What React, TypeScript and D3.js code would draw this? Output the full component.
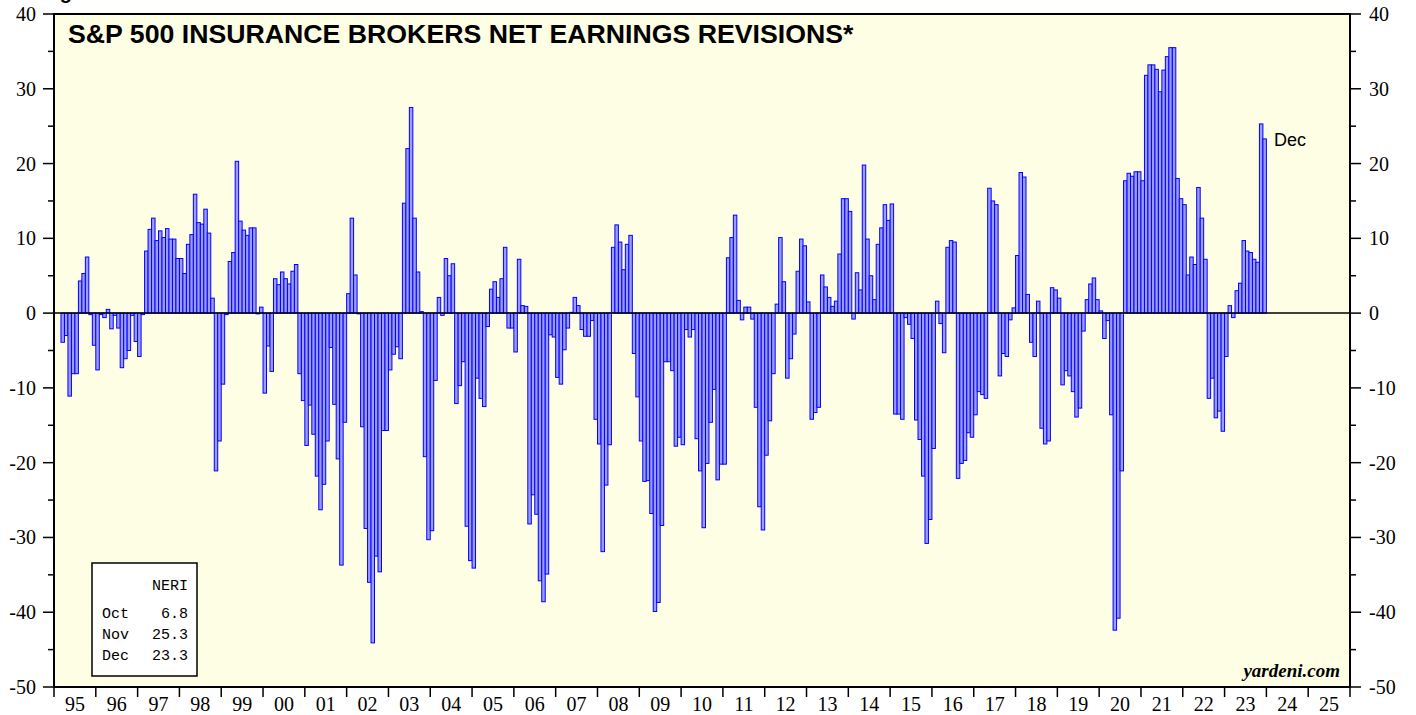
import * as d3 from "d3";
import { useMemo } from "react";

// NERI, monthly, first value is Mar 1995
const neri1995 = [-3.9, -3.0, -11.1, -8.1, -8.1, 4.3, 5.3, 7.5, -0.2, -4.3];
const neri1996 = [-7.6, -0.2, -0.6, 0.5, -2.1, -0.3, -2.0, -7.3, -6.1, -5.0, -0.3, -3.8];
const neri1997 = [-5.8, -0.2, 8.3, 11.2, 12.7, 9.7, 11.0, 10.1, 11.3, 9.9, 9.9, 7.3];
const neri1998 = [7.3, 5.3, 9.2, 10.5, 15.9, 12.1, 11.9, 13.9, 10.7, 2.0, -21.1, -17.1];
const neri1999 = [-9.5, -0.2, 6.9, 8.1, 20.3, 12.3, 11.1, 10.4, 11.4, 11.4, -0.1, 0.8];
const neri2000 = [-10.7, -4.4, -7.8, 4.6, 3.8, 5.5, 4.6, 3.9, 5.6, 6.5, -8.1, -11.7];
const neri2001 = [-17.7, -12.3, -16.2, -21.8, -26.3, -22.9, -17.1, -4.6, -12.2, -19.5, -33.7, -14.6];
const neri2002 = [2.6, 12.7, 5.1, -0.1, -15.2, -28.8, -36.0, -44.1, -32.5, -34.6, -15.7, -15.7];
const neri2003 = [-7.6, -5.5, -4.5, -6.1, 14.7, 22.0, 27.5, 12.7, 5.5, 0.2, -19.2, -30.3];
const neri2004 = [-29.1, -9.0, 2.1, -0.3, 7.3, 5.0, 6.6, -12.1, -9.7, -6.5, -28.5, -33.1];
const neri2005 = [-34.1, -8.7, -11.4, -12.5, -1.8, 3.2, 4.2, 2.1, 4.6, 8.8, -2.0, -2.0];
const neri2006 = [-5.2, 7.2, 1.0, 0.9, -28.2, -24.3, -26.9, -35.8, -38.6, -34.9, -2.9, -3.2];
const neri2007 = [-8.6, -9.5, -4.9, -2.0, 0.1, 2.1, 1.0, -2.2, -3.1, -3.1, -1.0, -14.2];
const neri2008 = [-17.5, -31.9, -23.0, -17.6, 8.8, 11.8, 9.5, 5.8, 9.2, 10.4, -5.4, -11.2];
const neri2009 = [-17.1, -22.5, -22.4, -26.8, -39.9, -38.7, -28.4, -6.5, -6.5, -7.7, -17.8, -16.6];
const neri2010 = [-17.6, -2.2, -3.2, -2.2, -16.8, -21.1, -28.7, -20.1, -14.6, -10.2, -22.3, -20.2];
const neri2011 = [-20.2, 7.4, 10.1, 13.1, 1.7, -0.9, 0.8, 0.8, -0.8, -12.6, -25.9, -29.0];
const neri2012 = [-19.0, -14.4, -8.1, 1.2, 10.1, 4.2, -8.7, -6.1, -2.8, 5.6, 9.9, 9.0];
const neri2013 = [1.5, -14.2, -13.3, -12.6, 5.1, 3.5, 2.1, 0.9, 1.6, 7.9, 15.3, 15.3];
const neri2014 = [13.6, -0.8, 5.4, 3.1, 19.8, 9.9, 5.0, 1.8, 9.2, 11.4, 14.5, 12.4];
const neri2015 = [14.6, -13.5, -13.5, -14.2, -0.6, -1.5, -3.4, -14.3, -16.9, -21.8, -30.8, -27.6];
const neri2016 = [-18.1, 1.6, -1.4, -5.3, 8.8, 9.7, 9.5, -22.1, -20.1, -19.7, -16.0, -16.6];
const neri2017 = [-13.6, -10.5, -10.9, -11.4, 16.7, 15.0, 14.5, -8.4, -5.4, -5.8, -0.9, 0.7];
const neri2018 = [7.7, 18.8, 18.2, 2.5, -3.9, -5.8, 1.6, -15.4, -17.5, -17.1, 3.4, 3.1];
const neri2019 = [2.0, -9.6, -7.7, -8.4, -10.5, -13.9, -12.7, -2.4, 1.8, 3.9, 4.7, 1.8];
const neri2020 = [0.3, -3.4, -1.0, -13.6, -42.4, -40.8, -21.1, 17.7, 18.7, 18.3, 18.9, 18.9];
const neri2021 = [17.7, 31.8, 33.2, 33.2, 32.6, 29.6, 32.5, 34.3, 35.5, 35.5, 18.0, 15.3];
const neri2022 = [14.5, 5.1, 7.5, 6.5, 16.8, 12.7, 7.2, -11.4, -8.7, -14.0, -13.1, -15.8];
const neri2023 = [-5.8, 1.0, -0.6, 3.0, 4.0, 9.7, 8.3, 8.1, 7.2, 6.8, 25.3, 23.3];

const yearLabels = ["95", "96", "97", "98", "99", "00", "01", "02", "03", "04", "05", "06", "07", "08", "09", "10",
    "11", "12", "13", "14", "15", "16", "17", "18", "19", "20", "21", "22", "23", "24", "25"];
const yTicks = [40, 30, 20, 10, 0, -10, -20, -30, -40, -50];
const legendMonths = ["Oct", "Nov", "Dec"];
const legendValues = [6.8, 25.3, 23.3];

const W = 1416;
const H = 715;
const margin = { top: 14, right: 66, bottom: 28, left: 54 };
const axisFont = "'Liberation Serif', 'Times New Roman', serif";
const sansFont = "'Liberation Sans', Arial, sans-serif";
const monoFont = "'Liberation Mono', 'Courier New', monospace";

const App = () => {
    const series = useMemo(() => {
        const values = [].concat(neri1995, neri1996, neri1997, neri1998, neri1999, neri2000, neri2001,
            neri2002, neri2003, neri2004, neri2005, neri2006, neri2007, neri2008, neri2009, neri2010,
            neri2011, neri2012, neri2013, neri2014, neri2015, neri2016, neri2017, neri2018, neri2019,
            neri2020, neri2021, neri2022, neri2023);
        const base = new Date(1995, 0, 1);
        const first = new Date(1995, 2, 1);
        const offset = d3.timeMonth.count(base, first);
        return values.map((v, i) => ({ month: offset + i, value: v }));
    }, []);

    const right = W - margin.right;
    const bottom = H - margin.bottom;

    const x = d3.scaleLinear()
        .domain([0, yearLabels.length * 12])
        .range([margin.left, right]);

    const y = d3.scaleLinear()
        .domain([-50, 40])
        .range([bottom, margin.top]);

    const minorTicks = d3.range(-45, 40, 10);
    const last = series[series.length - 1];

    return (
        <svg width={W} height={H} style={{ position: "absolute", left: 0, top: 0, background: "#fff" }}>
            <text x={42} y={-1} fontFamily={sansFont} fontWeight="bold" fontSize={20}>Figure</text>

            <rect x={margin.left} y={margin.top} width={right - margin.left} height={bottom - margin.top}
                fill="#fefee4" />

            <text x={68} y={43} fontFamily={sansFont} fontWeight="bold" fontSize={26.7}>
                S&amp;P 500 INSURANCE BROKERS NET EARNINGS REVISIONS*
            </text>

            {series.map(d => (
                <rect key={d.month}
                    x={x(d.month)}
                    y={y(Math.max(0, d.value))}
                    width={x(d.month + 1) - x(d.month)}
                    height={Math.abs(y(d.value) - y(0))}
                    fill="#9c9cff"
                    stroke="#0000ff"
                    strokeWidth={1} />
            ))}

            <line x1={margin.left} x2={right} y1={y(0)} y2={y(0)} stroke="#000" strokeWidth={1.5} />

            <text x={x(last.month) + 11} y={y(last.value) + 7} fontFamily={sansFont} fontSize={18}>Dec</text>

            {/* legend */}
            <rect x={92} y={563} width={105} height={113} fill="#fff" stroke="#000" strokeWidth={1.5} />
            <text x={188} y={590} textAnchor="end" fontFamily={monoFont} fontSize={15}>NERI</text>
            {legendMonths.map((m, i) => (
                <g key={m}>
                    <text x={102} y={618 + i * 21} fontFamily={monoFont} fontSize={15}>{m}</text>
                    <text x={188} y={618 + i * 21} textAnchor="end" fontFamily={monoFont} fontSize={15}>
                        {legendValues[i].toFixed(1)}
                    </text>
                </g>
            ))}

            <text x={1340} y={677} textAnchor="end" fontFamily={axisFont} fontWeight="bold" fontStyle="italic"
                fontSize={19}>yardeni.com</text>

            {/* frame */}
            <rect x={margin.left} y={margin.top} width={right - margin.left} height={bottom - margin.top}
                fill="none" stroke="#000" strokeWidth={2} />

            {/* y axes */}
            {yTicks.map(t => (
                <g key={t}>
                    <line x1={margin.left - 11} x2={margin.left} y1={y(t)} y2={y(t)} stroke="#000" strokeWidth={1.5} />
                    <line x1={right} x2={right + 11} y1={y(t)} y2={y(t)} stroke="#000" strokeWidth={1.5} />
                    <text x={36} y={y(t) + 7} textAnchor="end" fontFamily={axisFont} fontSize={20}>{t}</text>
                    <text x={1369} y={y(t) + 7} fontFamily={axisFont} fontSize={20}>{t}</text>
                </g>
            ))}
            {minorTicks.map(t => (
                <g key={t}>
                    <line x1={margin.left - 6} x2={margin.left} y1={y(t)} y2={y(t)} stroke="#000" strokeWidth={1.5} />
                    <line x1={right} x2={right + 6} y1={y(t)} y2={y(t)} stroke="#000" strokeWidth={1.5} />
                </g>
            ))}

            {/* x axis */}
            {d3.range(yearLabels.length + 1).map(k => (
                <line key={k} x1={x(k * 12)} x2={x(k * 12)} y1={bottom} y2={bottom + 10}
                    stroke="#000" strokeWidth={1.5} />
            ))}
            {yearLabels.map((lab, k) => (
                <text key={lab} x={x(k * 12 + 6)} y={711} textAnchor="middle" fontFamily={axisFont}
                    fontSize={20}>{lab}</text>
            ))}
        </svg>
    );
};

export default App;
